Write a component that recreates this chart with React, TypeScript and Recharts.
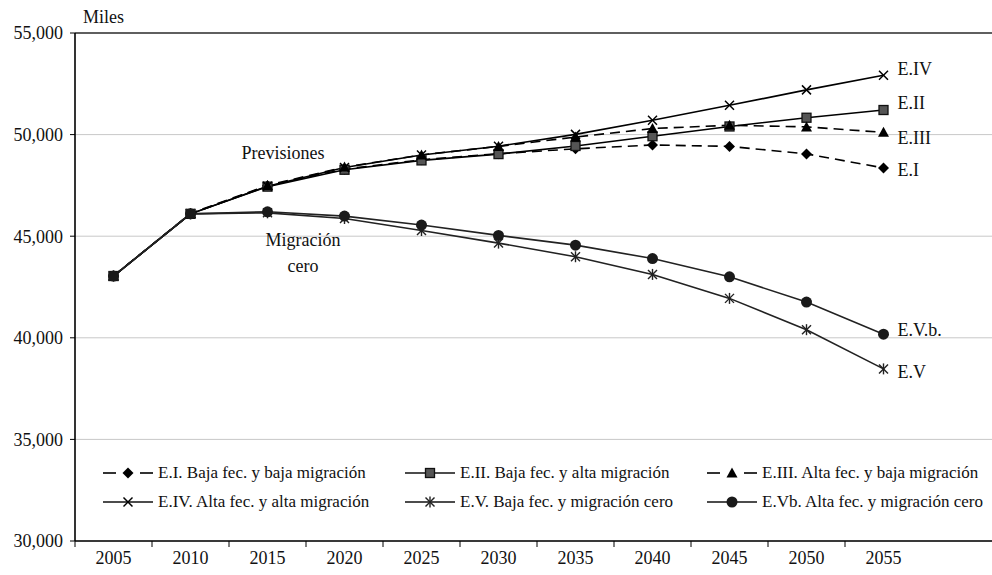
import React from 'react';
import {
  LineChart,
  Line,
  XAxis,
  YAxis,
  CartesianGrid,
  Legend,
  LabelList,
  ReferenceLine,
  ReferenceDot,
} from 'recharts';

// Población proyectada por escenario (miles)
const years = [2005, 2010, 2015, 2020, 2025, 2030, 2035, 2040, 2045, 2050, 2055];
const eI = [43040, 46100, 47480, 48300, 48760, 49060, 49300, 49490, 49420, 49050, 48360];
const eII = [43040, 46100, 47440, 48270, 48730, 49040, 49440, 49920, 50400, 50830, 51210];
const eIII = [43040, 46120, 47500, 48400, 49000, 49420, 49880, 50300, 50460, 50380, 50110];
const eIV = [43040, 46100, 47460, 48380, 49000, 49430, 50010, 50710, 51440, 52200, 52920];
const eV = [43040, 46100, 46150, 45870, 45280, 44660, 43990, 43120, 41940, 40400, 38470];
const eVb = [43040, 46100, 46200, 45990, 45550, 45040, 44560, 43900, 43000, 41760, 40180];
const yTicks = [30000, 35000, 40000, 45000, 50000, 55000];

const FONT = '"Liberation Serif", "Times New Roman", serif';
const CHART_W = 1010;
const CHART_H = 575;
const Y_AXIS_W = 75;
const MARGIN = { top: 33, right: 11, bottom: 0, left: 0 };
const SLOT = (CHART_W - MARGIN.left - MARGIN.right - Y_AXIS_W) / (years.length + 1);

const xTicks = [...years.map((y) => y - 2.5), years[years.length - 1] + 7.5];

type MarkerKind = 'diamond' | 'square' | 'triangle' | 'cross' | 'star' | 'circle';

const series = [
  { key: 'eI', name: 'E.I. Baja fec. y baja migración', tag: 'E.I', dashed: true, marker: 'diamond' as MarkerKind, dy: 2, color: '#000' },
  { key: 'eII', name: 'E.II. Baja fec. y alta migración', tag: 'E.II', dashed: false, marker: 'square' as MarkerKind, dy: -7, color: '#000' },
  { key: 'eIII', name: 'E.III. Alta fec. y baja migración', tag: 'E.III', dashed: true, marker: 'triangle' as MarkerKind, dy: 6, color: '#000' },
  { key: 'eIV', name: 'E.IV. Alta fec. y alta migración', tag: 'E.IV', dashed: false, marker: 'cross' as MarkerKind, dy: -6, color: '#000' },
  { key: 'eV', name: 'E.V. Baja fec. y migración cero', tag: 'E.V', dashed: false, marker: 'star' as MarkerKind, dy: 3, color: '#222' },
  { key: 'eVb', name: 'E.Vb. Alta fec. y migración cero', tag: 'E.V.b.', dashed: false, marker: 'circle' as MarkerKind, dy: -4, color: '#222' },
];

const data = years.map((year, i) => ({
  year,
  eI: eI[i],
  eII: eII[i],
  eIII: eIII[i],
  eIV: eIV[i],
  eV: eV[i],
  eVb: eVb[i],
}));

function Marker({ kind, cx, cy }: { kind: MarkerKind; cx: number; cy: number }) {
  switch (kind) {
    case 'diamond':
      return <polygon points={`${cx},${cy - 5.5} ${cx + 5.5},${cy} ${cx},${cy + 5.5} ${cx - 5.5},${cy}`} fill="#000" />;
    case 'square':
      return <rect x={cx - 4.5} y={cy - 4.5} width={9} height={9} fill="#555" stroke="#111" strokeWidth={1.3} />;
    case 'triangle':
      return <polygon points={`${cx},${cy - 5.5} ${cx + 5.5},${cy + 4.5} ${cx - 5.5},${cy + 4.5}`} fill="#000" />;
    case 'cross':
      return (
        <g stroke="#000" strokeWidth={1.5}>
          <line x1={cx - 4.5} y1={cy - 4.5} x2={cx + 4.5} y2={cy + 4.5} />
          <line x1={cx - 4.5} y1={cy + 4.5} x2={cx + 4.5} y2={cy - 4.5} />
        </g>
      );
    case 'star':
      return (
        <g stroke="#222" strokeWidth={1.4}>
          <line x1={cx - 4.5} y1={cy - 4.5} x2={cx + 4.5} y2={cy + 4.5} />
          <line x1={cx - 4.5} y1={cy + 4.5} x2={cx + 4.5} y2={cy - 4.5} />
          <line x1={cx} y1={cy - 5.5} x2={cx} y2={cy + 5.5} />
        </g>
      );
    default:
      return <circle cx={cx} cy={cy} r={5.5} fill="#1a1a1a" />;
  }
}

function renderDot(kind: MarkerKind) {
  return (props: any) => {
    const { cx, cy, index } = props;
    if (cx == null || cy == null) return <g key={`d-${kind}-${index}`} />;
    return (
      <g key={`d-${kind}-${index}`}>
        <Marker kind={kind} cx={cx} cy={cy} />
      </g>
    );
  };
}

function endLabel(tag: string, dy: number) {
  return (props: any) => {
    const { x, y, index } = props;
    if (index !== years.length - 1) return null;
    return (
      <text x={x + 14} y={y + dy} dominantBaseline="central" fontFamily={FONT} fontSize={18} fill="#111">
        {tag}
      </text>
    );
  };
}

function XTick({ x, y, payload }: any) {
  const yr = payload.value + 2.5;
  if (yr > years[years.length - 1]) return null;
  return (
    <text x={x + SLOT / 2} y={y + 9} textAnchor="middle" dominantBaseline="central" fontFamily={FONT} fontSize={18} fill="#111">
      {yr}
    </text>
  );
}

function LegendIcon({ dashed, marker }: { dashed: boolean; marker: MarkerKind }) {
  return (
    <svg width={50} height={16} style={{ display: 'block', flex: 'none' }}>
      {dashed ? (
        <g stroke="#000" strokeWidth={1.6}>
          <line x1={0} y1={8} x2={13} y2={8} />
          <line x1={37} y1={8} x2={50} y2={8} />
        </g>
      ) : (
        <line x1={0} y1={8} x2={50} y2={8} stroke="#111" strokeWidth={1.4} />
      )}
      <Marker kind={marker} cx={25} cy={8} />
    </svg>
  );
}

function ChartLegend() {
  return (
    <div style={{ display: 'grid', gridTemplateColumns: '302px 302px 302px', fontFamily: FONT, fontSize: 17, color: '#111' }}>
      {series.map((s) => (
        <div key={s.key} style={{ display: 'flex', alignItems: 'center', height: 29, whiteSpace: 'nowrap' }}>
          <LegendIcon dashed={s.dashed} marker={s.marker} />
          <span style={{ marginLeft: 5 }}>{s.name}</span>
        </div>
      ))}
    </div>
  );
}

function groupLabel(lines: string[]) {
  return (props: any) => {
    const { viewBox } = props;
    const cx = viewBox.x + (viewBox.width || 0) / 2;
    const cy = viewBox.y + (viewBox.height || 0) / 2;
    return (
      <text x={cx} y={cy} textAnchor="middle" fontFamily={FONT} fontSize={18} fill="#111">
        {lines.map((l, i) => (
          <tspan key={i} x={cx} dy={i === 0 ? 0 : 26} dominantBaseline="central">
            {l}
          </tspan>
        ))}
      </text>
    );
  };
}

export default function App() {
  return (
    <div style={{ position: 'absolute', left: 0, top: 0, width: 992, height: 575, overflow: 'hidden', background: '#fff' }}>
      <LineChart width={CHART_W} height={CHART_H} data={data} margin={MARGIN}>
        <CartesianGrid horizontal vertical={false} stroke="#c8c8c8" />
        <ReferenceLine y={55000} stroke="#333" strokeWidth={1.3} />
        <XAxis
          dataKey="year"
          type="number"
          domain={[xTicks[0], xTicks[xTicks.length - 1]]}
          ticks={xTicks}
          interval={0}
          height={34}
          tickSize={6}
          axisLine={{ stroke: '#000', strokeWidth: 1.6 }}
          tickLine={{ stroke: '#000' }}
          tick={<XTick />}
        />
        <YAxis
          domain={[30000, 55000]}
          ticks={yTicks}
          width={Y_AXIS_W}
          tickSize={5}
          tickMargin={7}
          interval={0}
          axisLine={{ stroke: '#000', strokeWidth: 1.6 }}
          tickLine={{ stroke: '#000' }}
          tick={{ fontFamily: FONT, fontSize: 18, fill: '#111' }}
          tickFormatter={(v: number) => v.toLocaleString('en-US')}
          label={{
            content: (p: any) => (
              <text x={p.viewBox.x + p.viewBox.width + 8} y={17} dominantBaseline="central" fontFamily={FONT} fontSize={18} fill="#111">
                Miles
              </text>
            ),
          }}
        />
        <ReferenceDot x={2016} y={49100} r={0} fill="none" stroke="none" label={{ content: groupLabel(['Previsiones']) }} />
        <ReferenceDot x={2017.3} y={44810} r={0} fill="none" stroke="none" label={{ content: groupLabel(['Migración', 'cero']) }} />
        <Legend
          layout="horizontal"
          verticalAlign="middle"
          align="center"
          wrapperStyle={{ position: 'absolute', left: 103, top: 458, width: 910 }}
          content={() => <ChartLegend />}
        />
        {series.map((s) => (
          <Line
            key={s.key}
            dataKey={s.key}
            name={s.name}
            type="linear"
            stroke={s.color}
            strokeWidth={1.6}
            strokeDasharray={s.dashed ? '10 6' : undefined}
            dot={renderDot(s.marker)}
            activeDot={false}
            isAnimationActive={false}
          >
            <LabelList dataKey={s.key} content={endLabel(s.tag, s.dy)} />
          </Line>
        ))}
      </LineChart>
    </div>
  );
}
